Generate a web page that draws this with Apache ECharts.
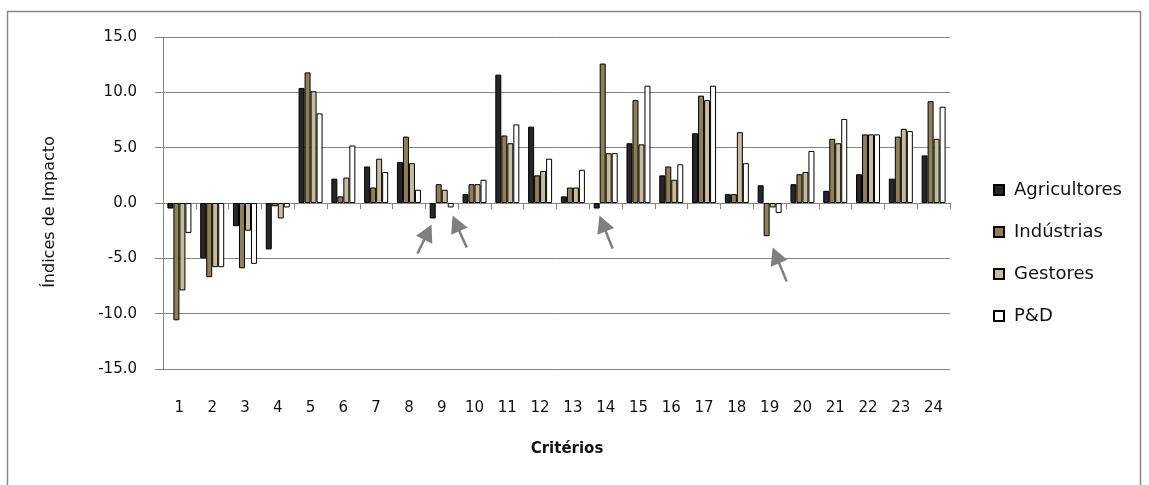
<!DOCTYPE html>
<html>
<head>
<meta charset="utf-8">
<script src="https://cdn.jsdelivr.net/npm/echarts@6/dist/echarts.min.js"></script>
<style>
html,body{margin:0;padding:0;background:#fff;}
#c{width:1149px;height:485px;}
</style>
</head>
<body>
<div id="c"></div>
<script>
const categories = ['1','2','3','4','5','6','7','8','9','10','11','12','13','14','15','16','17','18','19','20','21','22','23','24'];
const agricultores = [-0.5,-5.0,-2.1,-4.2,10.4,2.2,3.3,3.7,-1.4,0.8,11.6,6.9,0.6,-0.5,5.4,2.5,6.3,0.8,1.6,1.7,1.1,2.6,2.2,4.3];
const industrias   = [-10.6,-6.7,-5.9,-0.3,11.8,0.6,1.4,6.0,1.7,1.7,6.1,2.5,1.4,12.6,9.3,3.3,9.7,0.8,-3.0,2.6,5.8,6.2,6.0,9.2];
const gestores     = [-7.9,-5.8,-2.5,-1.4,10.1,2.3,4.0,3.6,1.2,1.7,5.4,2.9,1.4,4.5,5.3,2.1,9.3,6.4,-0.4,2.8,5.4,6.2,6.7,5.8];
const pd           = [-2.7,-5.8,-5.5,-0.4,8.1,5.2,2.8,1.2,-0.4,2.1,7.1,4.0,3.0,4.5,10.6,3.5,10.6,3.6,-0.9,4.7,7.6,6.2,6.5,8.7];
const yTicks = [-15, 15, 5];
// arrows: [tail category index, tail value, tip category index, tip value]
const arrows = [
  [7.26,-4.57,7.69,-1.94],
  [8.76,-4.02,8.33,-1.13],
  [13.21,-4.11,12.81,-1.13],
  [18.52,-7.10,18.09,-4.02]
];

const FONT = '"DejaVu Sans", "Noto Sans", sans-serif';
const TXT = '#111';
const chart = echarts.init(document.getElementById('c'), null, {renderer:'canvas'});
const mk = (name, data, color) => ({
  name, type:'bar', data, xAxisIndex:0, yAxisIndex:0,
  barWidth:6, barGap:'0%',
  itemStyle:{color, borderColor:'#000', borderWidth:1},
  emphasis:{disabled:true}
});
chart.setOption({
  animation:false,
  backgroundColor:'#fff',
  grid:{left:163, right:199, top:37, bottom:116, containLabel:false},
  legend:{
    orient:'vertical', left:993, top:181, padding:0,
    itemWidth:10, itemHeight:10, itemGap:24,
    icon:'rect',
    textStyle:{fontFamily:FONT, fontSize:18, color:TXT, padding:[0,0,0,5]},
    data:['Agricultores','Indústrias','Gestores','P&D']
  },
  xAxis:[
    {type:'category', data:categories, position:'bottom',
     axisLine:{onZero:true, lineStyle:{color:'#868686', width:1}},
     axisTick:{show:true, length:6, lineStyle:{color:'#868686'}},
     axisLabel:{show:false}, splitLine:{show:false}},
    {type:'category', data:categories, position:'bottom',
     axisLine:{show:false, onZero:false}, axisTick:{show:false},
     axisLabel:{fontFamily:FONT, fontSize:15, color:TXT, margin:32},
     splitLine:{show:false}}
  ],
  yAxis:{
    type:'value', min:yTicks[0], max:yTicks[1], interval:yTicks[2],
    axisLine:{show:true, lineStyle:{color:'#868686'}},
    axisTick:{show:true, length:8, lineStyle:{color:'#868686'}},
    splitLine:{lineStyle:{color:'#868686', width:1}},
    axisLabel:{fontFamily:FONT, fontSize:15, color:TXT, margin:26,
      formatter:v=>v.toFixed(1)}
  },
  series:[
    mk('Agricultores', agricultores, '#262626'),
    mk('Indústrias', industrias, '#8d8153'),
    mk('Gestores', gestores, '#c6be9a'),
    mk('P&D', pd, '#ffffff')
  ]
});

function px(ci, v){
  const x0 = chart.convertToPixel({xAxisIndex:0}, 0);
  const x1 = chart.convertToPixel({xAxisIndex:0}, 1);
  const y = chart.convertToPixel({yAxisIndex:0}, v);
  return [x0 + ci*(x1-x0), y];
}
const g = [
  {type:'rect', shape:{x:7.5,y:11.5,width:1133,height:490}, style:{fill:null, stroke:'#868686', lineWidth:1.5}, silent:true},
  {type:'text', x:567, y:449, style:{text:'Critérios', font:'bold 15px '+FONT, fill:TXT, textAlign:'center', textVerticalAlign:'middle'}},
  {type:'text', x:50, y:212, rotation:Math.PI/2, style:{text:'Índices de Impacto', font:'16px '+FONT, fill:TXT, textAlign:'center', textVerticalAlign:'middle'}}
];
arrows.forEach(a=>{
  const t = px(a[0],a[1]), h = px(a[2],a[3]);
  const dx=h[0]-t[0], dy=h[1]-t[1], L=Math.hypot(dx,dy), ux=dx/L, uy=dy/L;
  const hl=17, hw=9;
  const bx=h[0]-ux*hl, by=h[1]-uy*hl;
  g.push({type:'line', shape:{x1:t[0],y1:t[1],x2:bx+ux*2,y2:by+uy*2}, style:{stroke:'#7f7f7f', lineWidth:2.5}});
  g.push({type:'polygon', shape:{points:[[h[0],h[1]],[bx-uy*hw,by+ux*hw],[bx+uy*hw,by-ux*hw]]}, style:{fill:'#7f7f7f'}});
});
chart.setOption({graphic:g});
</script>
</body>
</html>
